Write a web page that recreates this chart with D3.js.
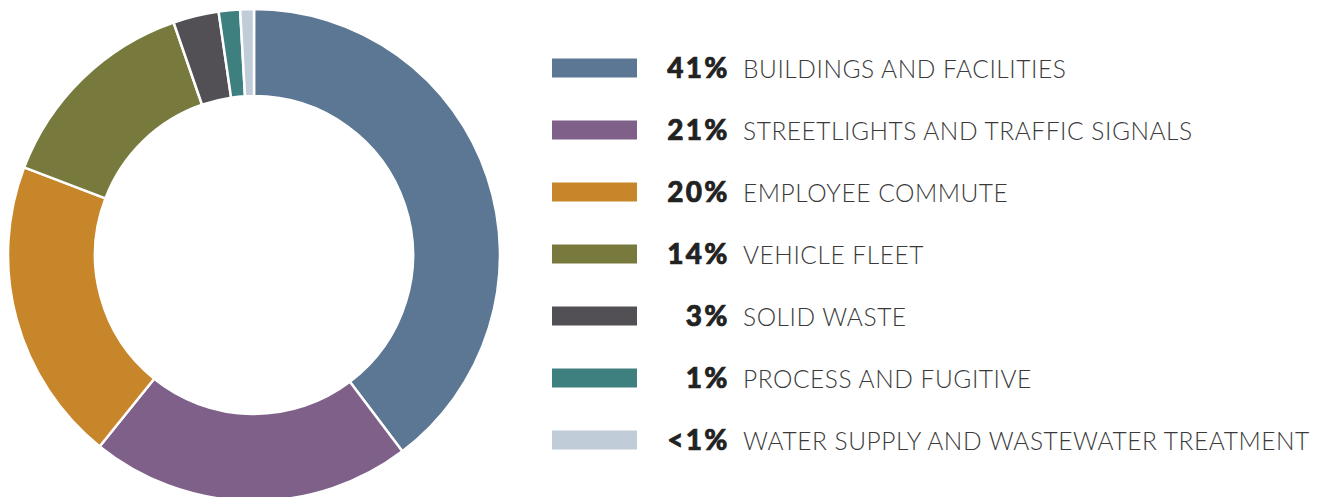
<!DOCTYPE html>
<html>
<head>
<meta charset="utf-8">
<script src="https://cdn.jsdelivr.net/npm/d3@7/dist/d3.min.js"></script>
<style>
  html, body { margin: 0; padding: 0; background: #ffffff; }
  svg { display: block; }
</style>
</head>
<body>
<svg id="chart" width="1326" height="497"></svg>
<script>
// Data
const categories = [
  "BUILDINGS AND FACILITIES",
  "STREETLIGHTS AND TRAFFIC SIGNALS",
  "EMPLOYEE COMMUTE",
  "VEHICLE FLEET",
  "SOLID WASTE",
  "PROCESS AND FUGITIVE",
  "WATER SUPPLY AND WASTEWATER TREATMENT"
];
const percentLabels = ["41%", "21%", "20%", "14%", "3%", "1%", "<1%"];
// slice shares as drawn in the picture (estimated)
const values = [39.7, 21.1, 20.0, 13.9, 3.0, 1.4, 0.9];
const colors = ["#5b7794", "#7f6089", "#c8862b", "#78793c", "#525055", "#3e7f80", "#c0ccd8"];

const svg = d3.select("#chart");

// Donut
const cx = 254, cy = 255, outerR = 246, innerR = 159;
const pie = d3.pie().sort(null).value(d => d)(values);
const arc = d3.arc().innerRadius(innerR).outerRadius(outerR);
svg.append("g")
  .attr("transform", `translate(${cx},${cy})`)
  .selectAll("path")
  .data(pie)
  .join("path")
  .attr("d", arc)
  .attr("fill", (d, i) => colors[i])
  .attr("stroke", "#ffffff")
  .attr("stroke-width", 2.5)
  .attr("stroke-linejoin", "miter");

// Legend
const y = d3.scalePoint().domain(d3.range(categories.length)).range([68, 440]);
const legend = svg.append("g");
const rows = legend.selectAll("g.row")
  .data(categories)
  .join("g")
  .attr("class", "row")
  .attr("transform", (d, i) => `translate(0,${y(i)})`);

rows.append("rect")
  .attr("x", 552).attr("y", -9.5)
  .attr("width", 85).attr("height", 19)
  .attr("fill", (d, i) => colors[i]);

rows.append("text")
  .attr("x", 729.5).attr("y", 10)
  .attr("text-anchor", "end")
  .attr("font-family", "Lato, 'Open Sans', sans-serif")
  .attr("font-weight", 900)
  .attr("font-size", 28)
  .attr("letter-spacing", 2.2)
  .attr("fill", "#222222")
  .attr("stroke", "#222222")
  .attr("stroke-width", 0.7)
  .text((d, i) => percentLabels[i]);

rows.append("text")
  .attr("x", 743).attr("y", 10)
  .attr("font-family", "Lato, 'Open Sans', sans-serif")
  .attr("font-weight", 300)
  .attr("font-size", 24.5)
  .attr("letter-spacing", 0.55)
  .attr("fill", "#3a3a3a")
  .text(d => d);
</script>
</body>
</html>
